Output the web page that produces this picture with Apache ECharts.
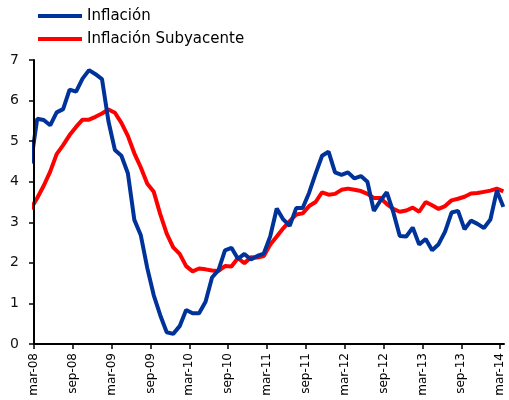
<!DOCTYPE html>
<html>
<head>
<meta charset="utf-8">
<script src="https://cdn.jsdelivr.net/npm/echarts@6/dist/echarts.min.js"></script>
<style>
	html,body{margin:0;padding:0;background:#fff;}
	#chart{width:509px;height:400px;}
</style>
</head>
<body>
<div id="chart"></div>
<script>
	// etiquetas del eje x, cada 6 meses
	var etiquetas = ['mar-08','sep-08','mar-09','sep-09','mar-10','sep-10','mar-11','sep-11','mar-12','sep-12','mar-13','sep-13','mar-14'];
	var paso = 6;

	// datos mensuales desde feb-08 hasta mar-14
	var inflacion = [4.45,
		5.55,5.52,5.39,5.71,5.79,6.27,6.22,6.54,6.75,6.65,6.53,5.49,
		4.78,4.64,4.21,3.06,2.68,1.87,1.20,0.71,0.29,0.25,0.44,0.84,
		0.76,0.76,1.04,1.64,1.82,2.31,2.37,2.10,2.22,2.08,2.17,2.23,
		2.66,3.34,3.07,2.91,3.35,3.35,3.73,4.20,4.64,4.74,4.23,4.17,
		4.23,4.08,4.14,4.00,3.28,3.53,3.74,3.25,2.66,2.65,2.87,2.45,
		2.59,2.31,2.46,2.77,3.24,3.28,2.83,3.04,2.96,2.86,3.07,3.78,
		3.38];
	var subyacente = [3.33,
		3.60,3.90,4.25,4.68,4.90,5.15,5.35,5.53,5.53,5.60,5.68,5.78,
		5.70,5.45,5.13,4.70,4.35,3.95,3.75,3.20,2.72,2.38,2.22,1.92,
		1.79,1.86,1.84,1.81,1.80,1.92,1.91,2.12,1.99,2.14,2.13,2.17,
		2.45,2.65,2.85,3.03,3.19,3.22,3.40,3.50,3.74,3.68,3.70,3.80,
		3.83,3.80,3.77,3.70,3.60,3.60,3.45,3.33,3.26,3.29,3.36,3.26,
		3.50,3.42,3.33,3.40,3.54,3.58,3.63,3.71,3.72,3.75,3.78,3.83,
		3.76];

	var myChart = echarts.init(document.getElementById('chart'));

	// cada dato cae a mitad de mes: feb-08 = -0.5
	function puntos(arr){
		return arr.map(function(v,i){ return [i-0.5, v]; });
	}

	var marcas = etiquetas.map(function(e,i){ return i*paso; });

	var option = {
		animation:false,
		textStyle:{fontFamily:'DejaVu Sans'},
		legend:{
			orient:'vertical',
			left:38,
			top:8,
			padding:0,
			itemWidth:44,
			itemHeight:4,
			itemGap:7,
			icon:'rect',
			data:['Inflación','Inflación Subyacente'],
			textStyle:{
				color:'#000',
				fontSize:15,
				lineHeight:16,
				fontFamily:'DejaVu Sans'
			}
		},
		grid:{
			left:34,
			right:5,
			top:60,
			bottom:56
		},
		xAxis:{
			type:'value',
			min:0,
			max:72.6,
			z:5,
			splitLine:{show:false},
			axisLine:{show:true,onZero:false,lineStyle:{color:'#000',width:2}},
			axisTick:{
				show:true,
				inside:false,
				length:5,
				customValues:marcas,
				lineStyle:{color:'#000',width:1.5}
			},
			axisLabel:{
				rotate:90,
				margin:9,
				fontSize:12,
				color:'#000',
				fontFamily:'DejaVu Sans',
				customValues:marcas,
				formatter:function(v){
					return etiquetas[Math.round(v/paso)];
				}
			}
		},
		yAxis:{
			type:'value',
			min:0,
			max:7,
			interval:1,
			z:5,
			splitLine:{show:false},
			axisLine:{show:true,lineStyle:{color:'#000',width:2}},
			axisTick:{show:true,inside:false,length:5,lineStyle:{color:'#000',width:1.5}},
			axisLabel:{
				margin:15,
				fontSize:14,
				color:'#111',
				fontFamily:'DejaVu Sans'
			}
		},
		series:[{
			name:'Inflación Subyacente',
			type:'line',
			showSymbol:false,
			symbol:'none',
			color:'#FF0000',
			lineStyle:{color:'#FF0000',width:4},
			data:puntos(subyacente)
		},{
			name:'Inflación',
			type:'line',
			showSymbol:false,
			symbol:'none',
			color:'#003399',
			lineStyle:{color:'#003399',width:4},
			data:puntos(inflacion)
		}]
	};

	myChart.setOption(option);
</script>
</body>
</html>
